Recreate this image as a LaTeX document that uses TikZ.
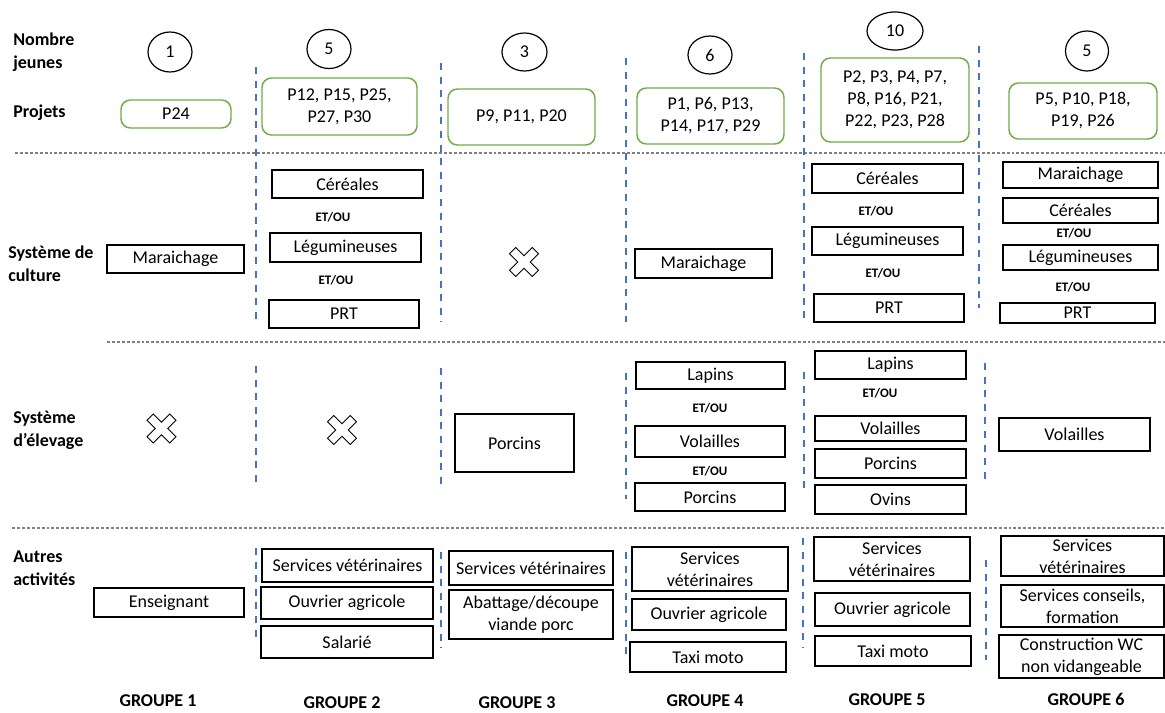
\documentclass[tikz,border=0pt]{standalone}
\usepackage{fontspec}
\setmainfont{Carlito}
\usetikzlibrary{shapes.geometric}
\definecolor{grpgreen}{HTML}{70AD47}
\definecolor{sepblue}{HTML}{4472C4}
\definecolor{sepgray}{HTML}{7F7F7F}

\tikzset{
  sz/.style 2 args={minimum width=#1*0.75pt, minimum height=#2*0.75pt},
  item/.style={draw=black, line width=0.9pt, rectangle},
  proj/.style={draw=grpgreen, line width=1.1pt, rounded corners=7pt, rectangle},
  count/.style={draw=black, line width=0.9pt, ellipse},
  andor/.style={font=\bfseries\fontsize{9.75}{12}\selectfont},
  rowlabel/.style={font=\bfseries\fontsize{13.5}{17.25}\selectfont, anchor=west, align=left},
  grouplabel/.style={font=\bfseries\fontsize{13.5}{16.5}\selectfont},
  rowsep/.style={draw=sepgray, line width=0.9pt, dash pattern=on 2.2pt off 1.5pt},
  colsep/.style={draw=sepblue, line width=1.5pt, dash pattern=on 5.2pt off 5pt},
  nomark/.pic={
    \draw[line width=0.75pt, line join=miter, rotate=45]
      (4.4,16.1) -- (4.4,4.4) -- (16.1,4.4) -- (16.1,-4.4) -- (4.4,-4.4) -- (4.4,-16.1)
      -- (-4.4,-16.1) -- (-4.4,-4.4) -- (-16.1,-4.4) -- (-16.1,4.4) -- (-4.4,4.4) -- (-4.4,16.1) -- cycle;
  },
}

\begin{document}
\begin{tikzpicture}[x=0.75pt,y=-0.75pt,
  every node/.style={font=\fontsize{13.5}{16.5}\selectfont, inner sep=0pt, align=center}]
\useasboundingbox (0,0) rectangle (1165,713);

% ---------- row separators ----------
\draw[rowsep] (15,153) -- (1165,153);
\draw[rowsep] (107,342) -- (1165,342);
\draw[rowsep] (12,528) -- (1165,528);

% ---------- column separators ----------
\draw[colsep] (255.5,67) -- (255.5,325);
\draw[colsep] (441,63) -- (441,322);
\draw[colsep] (626,58) -- (626,322);
\draw[colsep] (804,53) -- (804,320);
\draw[colsep] (979,46) -- (979,308);

\draw[colsep] (256,366) -- (256,488);
\draw[colsep] (441,368) -- (441,490);
\draw[colsep] (626,373) -- (626,499);
\draw[colsep] (804,372) -- (804,494);
\draw[colsep] (985,363) -- (985,485);

\draw[colsep] (256,548) -- (256,643);
\draw[colsep] (441,552) -- (441,648);
\draw[colsep] (626,552) -- (626,657);
\draw[colsep] (803,538) -- (803,648);
\draw[colsep] (985.5,560) -- (985.5,660);

% ---------- row labels ----------
\node[rowlabel] (lblnb) at (13,52.5) {Nombre\\jeunes};
\node[rowlabel] (lblproj) at (13,113) {Projets};
\node[rowlabel] (lblcult) at (8,263.5) {Système de\\culture};
\node[rowlabel] (lblelev) at (13,430) {Système\\d’élevage};
\node[rowlabel] (lblaut) at (13,568) {Autres\\activités};

% ---------- number of young farmers ----------
\node[count, sz={44}{40}] (n1) at (170,52) {1};
\node[count, sz={44}{39}] (n2) at (329,49) {5};
\node[count, sz={45}{38}] (n3) at (524.5,52) {3};
\node[count, sz={44}{38}] (n4) at (710,55) {6};
\node[count, sz={56}{38}] (n5) at (895,31) {10};
\node[count, sz={43}{40}] (n6) at (1087,51) {5};

% ---------- projects ----------
\node[proj, sz={110}{28}] (p1) at (176,114) {P24};
\node[proj, sz={155}{57}] (p2) at (339.5,106.5) {P12, P15, P25,\\P27, P30};
\node[proj, sz={147}{56}] (p3) at (521.5,117) {P9, P11, P20};
\node[proj, sz={147}{56}] (p4) at (710.5,116) {P1, P6, P13,\\P14, P17, P29};
\node[proj, sz={148}{84}] (p5) at (895,100) {P2, P3, P4, P7,\\P8, P16, P21,\\P22, P23, P28};
\node[proj, sz={148}{56}] (p6) at (1083,111) {P5, P10, P18,\\P19, P26};

% ---------- cropping systems ----------
\node[item, sz={137}{28}] (c1mar) at (175.5,259) {Maraichage};

\node[item, sz={151}{28}] (c2cer) at (347.5,184) {Céréales};
\node[andor] (c2o1) at (333,217) {ET/OU};
\node[item, sz={151}{29}] (c2leg) at (345.5,247.5) {Légumineuses};
\node[andor] (c2o2) at (336,280) {ET/OU};
\node[item, sz={150}{28}] (c2prt) at (344,314) {PRT};

\pic at (524,262) {nomark};

\node[item, sz={137}{29}] (c4mar) at (703.5,263.5) {Maraichage};

\node[item, sz={151}{29}] (c5cer) at (887.5,178.5) {Céréales};
\node[andor] (c5o1) at (876,211) {ET/OU};
\node[item, sz={151}{28}] (c5leg) at (887.5,241) {Légumineuses};
\node[andor] (c5o2) at (883,273) {ET/OU};
\node[item, sz={150}{28}] (c5prt) at (889,308) {PRT};

\node[item, sz={155}{26}] (c6mar) at (1080.5,175) {Maraichage};
\node[item, sz={155}{25}] (c6cer) at (1080.5,210.5) {Céréales};
\node[andor] (c6o1) at (1074,233) {ET/OU};
\node[item, sz={155}{25}] (c6leg) at (1080.5,257.5) {Légumineuses};
\node[andor] (c6o2) at (1073,287) {ET/OU};
\node[item, sz={155}{20}] (c6prt) at (1077.5,313) {PRT};

% ---------- livestock systems ----------
\pic at (161.5,428.5) {nomark};
\pic at (342,430) {nomark};

\node[item, sz={119}{58}] (e3por) at (514.5,443) {Porcins};

\node[item, sz={149}{27}] (e4lap) at (710.5,375.5) {Lapins};
\node[andor] (e4o1) at (710,408) {ET/OU};
\node[item, sz={150}{31}] (e4vol) at (710,441.5) {Volailles};
\node[andor] (e4o2) at (710,471) {ET/OU};
\node[item, sz={150}{28}] (e4por) at (710,497) {Porcins};

\node[item, sz={151}{28}] (e5lap) at (890.5,365) {Lapins};
\node[andor] (e5o1) at (880,393) {ET/OU};
\node[item, sz={151}{25}] (e5vol) at (890.5,428.5) {Volailles};
\node[item, sz={151}{29}] (e5por) at (890.5,463.5) {Porcins};
\node[item, sz={151}{29}] (e5ovi) at (890.5,499.5) {Ovins};

\node[item, sz={151}{33}] (e6vol) at (1074.5,434.5) {Volailles};

% ---------- other activities ----------
\node[item, sz={150}{29}] (a1ens) at (169,602.5) {Enseignant};

\node[item, sz={171}{33}] (a2ser) at (347.5,565.5) {Services vétérinaires};
\node[item, sz={172}{32}] (a2ouv) at (347,603) {Ouvrier agricole};
\node[item, sz={172}{32}] (a2sal) at (347,642) {Salarié};

\node[item, sz={164}{34}] (a3ser) at (531,568) {Services vétérinaires};
\node[item, sz={164}{49}] (a3aba) at (531,614.5) {Abattage/découpe\\viande porc};

\node[item, sz={156}{44}] (a4ser) at (710,569) {Services\\vétérinaires};
\node[item, sz={154}{31}] (a4ouv) at (709,614.5) {Ouvrier agricole};
\node[item, sz={156}{30}] (a4tax) at (708,657) {Taxi moto};

\node[item, sz={156}{44}] (a5ser) at (892,559) {Services\\vétérinaires};
\node[item, sz={155}{33}] (a5ouv) at (892.5,609.5) {Ouvrier agricole};
\node[item, sz={156}{30}] (a5tax) at (893,651) {Taxi moto};

\node[item, sz={163}{40}] (a6ser) at (1082.5,556) {Services\\vétérinaires};
\node[item, sz={163}{42}] (a6con) at (1082.5,606) {Services conseils,\\formation};
\node[item, sz={165}{43}] (a6wc) at (1081.5,656.5) {Construction WC\\non vidangeable};

% ---------- group names ----------
\node[grouplabel] (g1) at (158,701) {GROUPE 1};
\node[grouplabel] (g2) at (342,703) {GROUPE 2};
\node[grouplabel] (g3) at (517,703) {GROUPE 3};
\node[grouplabel] (g4) at (705,701) {GROUPE 4};
\node[grouplabel] (g5) at (887,700) {GROUPE 5};
\node[grouplabel] (g6) at (1086,699) {GROUPE 6};
\end{tikzpicture}
\end{document}
